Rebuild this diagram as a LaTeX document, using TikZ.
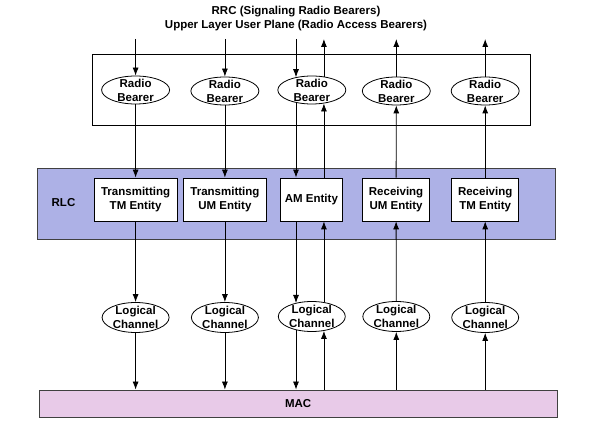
\documentclass[tikz,border=0pt]{standalone}
\usepackage{fontspec}
\setmainfont{Liberation Sans}
\usetikzlibrary{arrows.meta,shapes.geometric}

\definecolor{rlcblue}{HTML}{ADB1E6}
\definecolor{macpink}{HTML}{E8CAE8}

\tikzset{
  bearer/.style={ellipse,draw,fill=white,minimum width=68pt,minimum height=28pt,
    inner xsep=0pt,inner ysep=-2pt,align=center},
  channel/.style={bearer,minimum width=67pt,minimum height=30pt},
  entity/.style={rectangle,draw,fill=white,minimum height=43pt,inner sep=0pt,align=center},
  layer/.style={rectangle,draw=black!75,inner sep=0pt},
  flow/.style={-{Latex[length=8pt,width=6pt]}}
}

\begin{document}
\begin{tikzpicture}[x=1pt,y=-1pt,line width=0.8pt,
    every node/.append style={font=\fontsize{11.5}{14}\selectfont\bfseries}]
  \useasboundingbox (0,0) rectangle (608,430);

  \node (rrc) at (296,11.5) {RRC (Signaling Radio Bearers)};
  \node (upl) at (296,26) {Upper Layer User Plane (Radio Access Bearers)};

  % layers
  \node[layer,draw=black,minimum width=437.6pt,minimum height=71pt] (upper) at (311.2,89.5) {};
  \node[layer,fill=rlcblue,minimum width=518.3pt,minimum height=71pt] (rlc) at (296.2,203.5) {};
  \node (rlclabel) at (63.5,203) {RLC};
  \node[layer,fill=macpink,minimum width=518.3pt,minimum height=27pt] (mac) at (298.2,403.5) {MAC};

  \begin{scope}[every node/.style={bearer,font=\fontsize{11.5}{14}\selectfont\bfseries}]
    \node (rb1) at (135.6,90) {Radio\\Bearer};
    \node (rb2) at (224.9,91) {Radio\\Bearer};
    \node (rb3) at (311.8,90) {Radio\\Bearer};
    \node (rb4) at (396.3,91) {Radio\\Bearer};
    \node (rb5) at (485.2,91) {Radio\\Bearer};
  \end{scope}

  \begin{scope}[every node/.style={channel,font=\fontsize{11.5}{14}\selectfont\bfseries}]
    \node (lc1) at (135.6,317.5) {Logical\\Channel};
    \node (lc2) at (224.9,317.5) {Logical\\Channel};
    \node (lc3) at (311.8,316.5) {Logical\\Channel};
    \node (lc4) at (396.3,316.5) {Logical\\Channel};
    \node (lc5) at (485.2,317.5) {Logical\\Channel};
  \end{scope}

  \begin{scope}[every node/.style={entity,font=\fontsize{11.5}{14}\selectfont\bfseries}]
    \node[minimum width=83.4pt] (ttm) at (135.6,199.5) {Transmitting\\TM Entity};
    \node[minimum width=83.4pt] (tum) at (224.9,199.5) {Transmitting\\UM Entity};
    \node[minimum width=62.4pt] (am)  at (311.4,199.5) {AM Entity};
    \node[minimum width=67.4pt] (rum) at (396.1,199.5) {Receiving\\UM Entity};
    \node[minimum width=67pt]   (rtm) at (485.2,199.5) {Receiving\\TM Entity};
  \end{scope}

  \coordinate (top) at (0,39);

  \begin{scope}[every edge/.style={draw,flow}]
    % transmitting side
    \path (top -| rb1.north) edge (rb1.north);
    \path (rb1.south) edge (ttm.north);
    \path (ttm.south) edge (lc1.north);
    \path (lc1.south) edge (mac.north -| lc1.south);
    \path (top -| rb2.north) edge (rb2.north);
    \path (rb2.south) edge (tum.north);
    \path (tum.south) edge (lc2.north);
    \path (lc2.south) edge (mac.north -| lc2.south);
    % acknowledged mode
    \path (top -| rb3.141) edge (rb3.141);
    \path (rb3.219) edge (am.north -| rb3.219);
    \path (am.south -| rb3.219) edge (lc3.140 -| rb3.219);
    \path (lc3.220 -| rb3.219) edge (mac.north -| rb3.219);
    \path (mac.north -| rb3.312) edge (lc3.310 -| rb3.312);
    \path (lc3.50 -| rb3.312) edge (am.south -| rb3.312);
    \path (am.north -| rb3.312) edge (rb3.312);
    \path (rb3.48) edge (top -| rb3.48);
    % receiving side
    \path (mac.north -| lc4.south) edge (lc4.south);
    \path (lc4.north) edge (rum.south);
    \path (rum.north) edge (rb4.south);
    \path (rb4.north) edge (top -| rb4.north);
    \path (mac.north -| lc5.south) edge (lc5.south);
    \path (lc5.north) edge (rtm.south);
    \path (rtm.north) edge (rb5.south);
    \path (rb5.north) edge (top -| rb5.north);
  \end{scope}

\end{tikzpicture}
\end{document}
